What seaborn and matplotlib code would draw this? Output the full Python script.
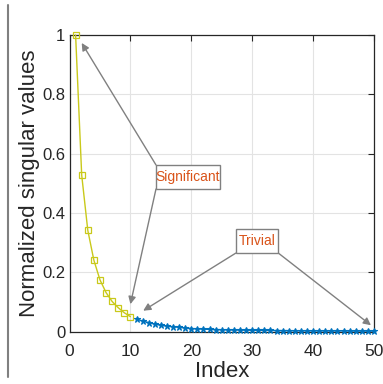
import matplotlib
matplotlib.use("Agg")
import matplotlib.pyplot as plt
import seaborn as sns
import pandas as pd
from matplotlib.lines import Line2D
from matplotlib.patches import Rectangle

sig_idx = [1, 2, 3, 4, 5, 6, 7, 8, 9, 10]
sig_vals = [1.0, 0.528, 0.342, 0.241, 0.175, 0.132, 0.102, 0.081, 0.064, 0.051]
triv_idx = list(range(11, 51))
triv_vals = [0.043, 0.036, 0.031, 0.026, 0.022, 0.019, 0.017, 0.015, 0.013, 0.011,
             0.010, 0.009, 0.008, 0.0075, 0.007, 0.0065, 0.006, 0.0057, 0.0054, 0.0051,
             0.0048, 0.0046, 0.0044, 0.0042, 0.004, 0.0038, 0.0036, 0.0035, 0.0034, 0.0033,
             0.0032, 0.0031, 0.003, 0.0029, 0.0028, 0.0027, 0.0026, 0.0025, 0.0024, 0.0023]
xticks = [0, 10, 20, 30, 40, 50]
yticks = [0, 0.2, 0.4, 0.6, 0.8, 1.0]
ytick_labels = ["0", "0.2", "0.4", "0.6", "0.8", "1"]

sns.set_style("white")
plt.rcParams['font.family'] = ['Liberation Sans', 'DejaVu Sans']

fig = plt.figure(figsize=(3.83, 3.84), dpi=100)
ax = fig.add_axes([0.1815, 0.136, 0.795, 0.773])

df_sig = pd.DataFrame({"Index": sig_idx, "Value": sig_vals})
df_triv = pd.DataFrame({"Index": triv_idx, "Value": triv_vals})

yellow = "#C9C91A"
blue = "#0072BD"
sns.lineplot(data=df_triv, x="Index", y="Value", ax=ax, color=blue, lw=1.0,
             marker="*", markersize=5, markeredgewidth=0.8, markerfacecolor=blue,
             markeredgecolor=blue, clip_on=False, zorder=3)
sns.lineplot(data=df_sig, x="Index", y="Value", ax=ax, color=yellow, lw=1.0,
             marker="s", markersize=4, markeredgewidth=0.9, markerfacecolor="none",
             markeredgecolor=yellow, clip_on=False, zorder=3)

ax.set_xlim(0, 50)
ax.set_ylim(0, 1)
ax.set_xticks(xticks)
ax.set_yticks(yticks)
ax.set_yticklabels(ytick_labels)
ax.grid(True, color="#E3E3E3", lw=0.8)
ax.set_axisbelow(True)
for s in ax.spines.values():
    s.set_color("#262626")
    s.set_linewidth(0.9)
    s.set_visible(True)
ax.tick_params(direction="in", length=4, width=0.8, color="#262626",
               labelsize=12, labelcolor="#262626", top=True, right=True)
ax.tick_params(axis="x", pad=9, labelsize=12.5)
ax.tick_params(axis="y", pad=3)
ax.set_xlabel("Index", fontsize=16, color="#262626", labelpad=1)
ax.set_ylabel("Normalized singular values", fontsize=16, color="#262626")
ax.yaxis.set_label_coords(-0.098, 0.5)

arrow_kw = dict(arrowstyle="-|>", color="#808080", lw=1.0, mutation_scale=11,
                shrinkA=0, shrinkB=0)
# Significant
ax.annotate("", xy=(2.0, 0.973), xytext=(14.2, 0.562), arrowprops=arrow_kw,
            annotation_clip=False)
ax.annotate("", xy=(10.0, 0.093), xytext=(14.2, 0.481), arrowprops=arrow_kw,
            annotation_clip=False)
ax.add_patch(Rectangle((14.2, 0.481), 10.5, 0.081, fc="white", ec="#808080",
                       lw=1.0, zorder=4))
ax.text(19.45, 0.5215, "Significant", ha="center", va="center", fontsize=10,
        color="#D95319", zorder=5)
# Trivial
ax.annotate("", xy=(12.1, 0.071), xytext=(27.3, 0.265), arrowprops=arrow_kw,
            annotation_clip=False)
ax.annotate("", xy=(49.5, 0.022), xytext=(34.3, 0.265), arrowprops=arrow_kw,
            annotation_clip=False)
ax.add_patch(Rectangle((27.3, 0.265), 7.0, 0.081, fc="white", ec="#808080",
                       lw=1.0, zorder=4))
ax.text(30.8, 0.3055, "Trivial", ha="center", va="center", fontsize=10,
        color="#D95319", zorder=5)

fig.add_artist(Line2D([8 / 383, 8 / 383], [1 - 5 / 384, 1 - 377 / 384],
                      transform=fig.transFigure, color="#808080", lw=1.5))

fig.savefig("out.png", dpi=100)
